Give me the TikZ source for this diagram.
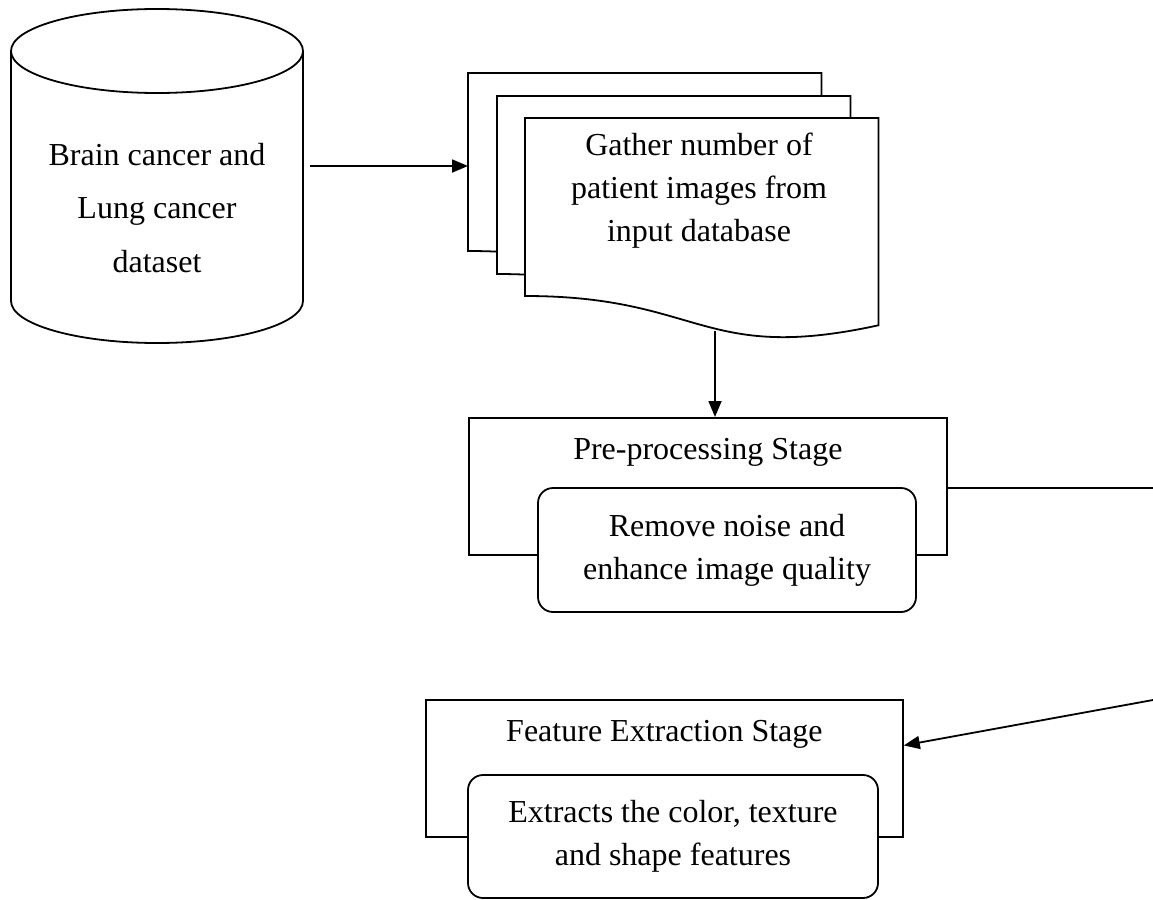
\documentclass[tikz,border=0pt]{standalone}
\usepackage{fontspec}
\setmainfont{Liberation Serif}
\usetikzlibrary{arrows.meta,calc}
\tikzset{
  outline/.style={line width=1.8pt, draw=black},
  arr/.style={line width=1.8pt, -{Triangle[length=16pt,width=13pt]}},
  plainline/.style={line width=1.8pt},
  txt/.style={font=\fontsize{32pt}{43pt}\selectfont, align=center, inner sep=0pt},
  stagebox/.style={outline, fill=white, rectangle, inner sep=0pt, anchor=north west},
  taskbox/.style={outline, fill=white, rounded corners=15pt, inner sep=0pt, txt},
  pagebox/.style={inner sep=0pt, minimum width=353pt, minimum height=222pt, anchor=north west},
}
% one sheet of the stacked document symbol, drawn over the frame of node #1
\newcommand\wavypage[1]{%
  \draw[outline, fill=white] (#1.north west) -- (#1.north east)
    -- ([yshift=-207.3pt]#1.north east)
    .. controls ([yshift=-245.9pt]#1.north) and ([yshift=-178pt]#1.north)
    .. ([yshift=-178pt]#1.north west) -- cycle;}
\begin{document}
\begin{tikzpicture}[x=1pt,y=-1pt]
\useasboundingbox (0,0) rectangle (1153,899);

% database cylinder
\draw[outline] (11,51) -- (11,301)
  arc[start angle=180, end angle=360, x radius=146pt, y radius=42pt] -- (303,51);
\draw[outline] (157,51) ellipse [x radius=146pt, y radius=42pt];
\node[txt, font=\fontsize{32pt}{53.5pt}\selectfont] (db) at (157,208)
  {Brain cancer and\\Lung cancer\\dataset};
\coordinate (dbR) at (310,166);

% stacked input images
\node[pagebox] (pA) at (468,73) {};
\node[pagebox] (pB) at (497,96) {};
\node[pagebox] (pC) at (525,118) {};
\wavypage{pA}\wavypage{pB}\wavypage{pC}
\node[txt] (gather) at (699,191) {Gather number of\\patient images from\\input database};
\coordinate (pCbot) at (715,331);
\draw[arr] (dbR) -- (pA.west |- dbR);

% pre-processing stage
\node[stagebox, minimum width=478pt, minimum height=137pt] (pre) at (468,417) {};
\node[txt] (preT) at ([yshift=-35pt]pre.north) {Pre-processing Stage};
\node[taskbox, minimum width=378pt, minimum height=124pt] (preIn) at (727,550)
  {Remove noise and\\enhance image quality};
\draw[arr] (pCbot) -- (pCbot |- pre.north);
\coordinate (preR) at (1153,488);
\draw[plainline] (pre.east |- preR) -- (preR);

% feature extraction stage
\node[stagebox, minimum width=477pt, minimum height=137pt] (feat) at (425,699) {};
\node[txt] (featT) at ([yshift=-35pt]feat.north) {Feature Extraction Stage};
\node[taskbox, minimum width=410pt, minimum height=123pt] (featIn) at (673,836.5)
  {Extracts the color, texture\\and shape features};
\coordinate (featR) at (1153,700);
\draw[arr] (featR) -- ([yshift=23pt]feat.east);
\end{tikzpicture}
\end{document}
